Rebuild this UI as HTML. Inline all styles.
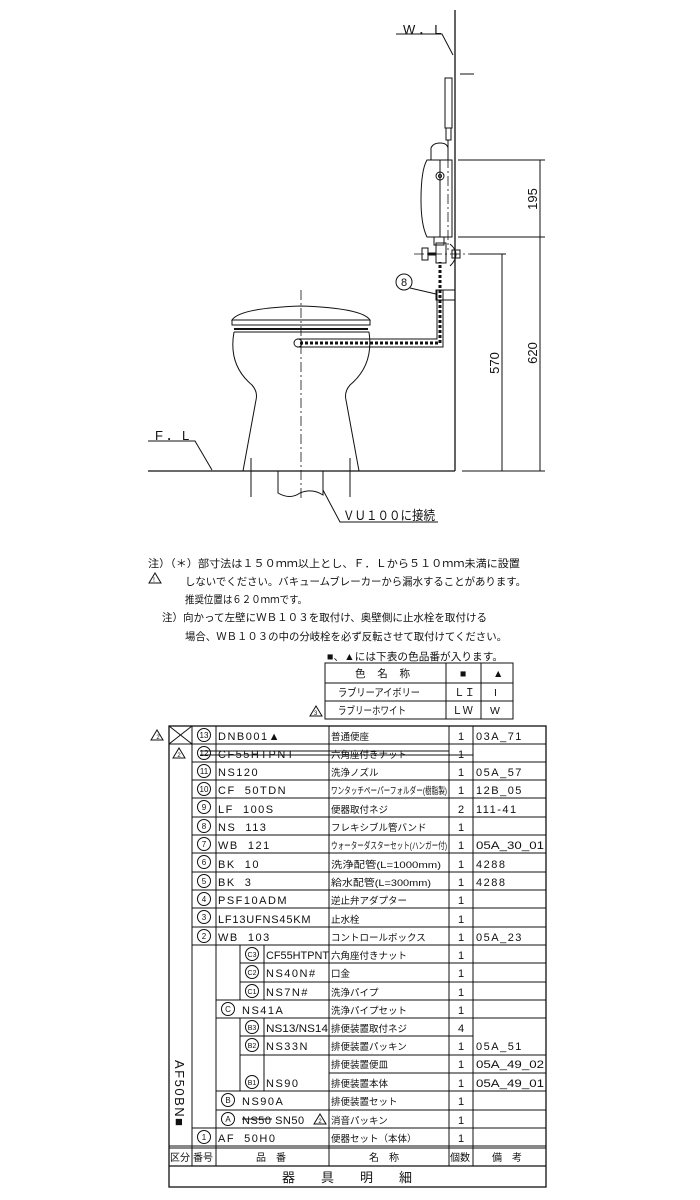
<!DOCTYPE html>
<html><head><meta charset="utf-8"><style>
html,body{margin:0;padding:0;background:#fff;}
svg{display:block;}
text{font-family:"Liberation Sans","Noto Sans CJK JP",sans-serif;fill:#111;}
</style></head><body>
<svg width="700" height="1200" viewBox="0 0 700 1200" xmlns="http://www.w3.org/2000/svg">
<g stroke="#111" fill="none" stroke-width="1">
<line x1="455" y1="10" x2="455" y2="471" stroke-width="1.3"/>
<line x1="148" y1="471" x2="455" y2="471" stroke-width="1.3"/>
<polyline points="396,34 442,34 453,55"/>
<polyline points="148,441 195,441 212,470"/>
<line x1="458" y1="160" x2="545" y2="160"/>
<line x1="458" y1="237" x2="545" y2="237"/>
<line x1="470" y1="254" x2="506" y2="254"/>
<line x1="462" y1="471" x2="545" y2="471"/>
<line x1="540" y1="160" x2="540" y2="471"/>
<line x1="502" y1="254" x2="502" y2="471"/>
<line x1="460" y1="74" x2="474" y2="74"/>
<line x1="301" y1="290" x2="301" y2="500" stroke-dasharray="10,3,2,3" stroke-width="0.8"/>
<line x1="448" y1="140" x2="448" y2="250" stroke-dasharray="10,3,2,3" stroke-width="0.8"/>
<line x1="414" y1="254" x2="470" y2="254" stroke-dasharray="10,3,2,3" stroke-width="0.8"/>
<path d="M232,320 Q240,308 301,306 Q362,308 370,320 Z"/>
<rect x="232" y="320" width="138" height="5"/>
<line x1="234" y1="329" x2="368" y2="329" stroke-width="2"/>
<path d="M234,332 Q228,365 252,385 Q258,392 256,400 L243,471"/>
<path d="M369,332 Q374,365 350,385 Q344,392 346,400 L359,471"/>
<line x1="234" y1="332" x2="369" y2="332"/>
<path d="M278,471 L278,493 Q290,500 300,493 Q312,488 323,495 L323,471"/>
<line x1="251" y1="458" x2="251" y2="497"/>
<line x1="350" y1="458" x2="350" y2="497"/>
<polyline points="323,490 340,522 438,522"/>
<path d="M297,339 L437,339 L437,290 M297,347 L443,347 L443,290" />
<path d="M300,343 L440,343" stroke-dasharray="3,2" stroke-width="3"/>
<path d="M440,343 L440,262" stroke-dasharray="3,2" stroke-width="3"/>
<ellipse cx="298" cy="343" rx="4" ry="4"/>
<rect x="436" y="290" width="19" height="10"/>
<circle cx="404" cy="282" r="8"/>
<line x1="410" y1="288" x2="436" y2="294"/>
<rect x="422" y="248" width="6" height="12"/>
<line x1="428" y1="254" x2="436" y2="254" stroke-width="3"/>
<rect x="436" y="243" width="10" height="20"/>
<path d="M450,244 Q462,254 450,266"/>
<rect x="452" y="250" width="8" height="8"/>
<path d="M427,160 L452,160 L452,237 L427,237 Q421,225 421,200 Q421,170 427,160 Z"/>
<line x1="440" y1="160" x2="440" y2="237"/>
<circle cx="440" cy="176" r="4"/><circle cx="440" cy="176" r="1.5"/>
<path d="M431,160 L431,148 Q433,143 440,143 Q447,143 448,148 L448,160"/>
<rect x="434" y="237" width="10" height="8"/>
<rect x="445" y="78" width="7" height="50"/>
<rect x="446" y="128" width="5" height="12"/>
<line x1="448" y1="140" x2="448" y2="150"/>
</g>
<g font-size="13">
<text x="403" y="34" letter-spacing="3">W．L</text>
<text x="155" y="440" letter-spacing="3">F．L</text>
<text x="343" y="520" textLength="92" lengthAdjust="spacingAndGlyphs">ＶＵ１００に接続</text>
<text x="404" y="286" font-size="11" text-anchor="middle">8</text>
<text transform="translate(537,199) rotate(-90)" text-anchor="middle">195</text>
<text transform="translate(537,353) rotate(-90)" text-anchor="middle">620</text>
<text transform="translate(499,363) rotate(-90)" text-anchor="middle">570</text>
</g>
<path d="M149,583 L155,573 L161,583 Z" stroke="#111" fill="none"/>
<text x="153" y="582" font-size="7">!</text>
<g font-size="10.5">
<text x="148" y="567" textLength="372" lengthAdjust="spacingAndGlyphs">注）（＊）部寸法は１５０ｍｍ以上とし、Ｆ．Ｌから５１０ｍｍ未満に設置</text>
<text x="185" y="585" textLength="341" lengthAdjust="spacingAndGlyphs">しないでください。バキュームブレーカーから漏水することがあります。</text>
<text x="185" y="603" textLength="122" lengthAdjust="spacingAndGlyphs">推奨位置は６２０ｍｍです。</text>
<text x="162" y="621" textLength="325" lengthAdjust="spacingAndGlyphs">注）向かって左壁にＷＢ１０３を取付け、奥壁側に止水栓を取付ける</text>
<text x="185" y="640" textLength="322" lengthAdjust="spacingAndGlyphs">場合、ＷＢ１０３の中の分岐栓を必ず反転させて取付けてください。</text>
<text x="327" y="660" textLength="176" lengthAdjust="spacingAndGlyphs">■、▲には下表の色品番が入ります。</text>
</g>
<g stroke="#111" fill="none">
<rect x="325" y="663" width="188" height="56"/>
<line x1="325" y1="683" x2="513" y2="683"/>
<line x1="325" y1="701" x2="513" y2="701"/>
<line x1="446" y1="663" x2="446" y2="719"/>
<line x1="481" y1="663" x2="481" y2="719"/>
<path d="M310,716 L316,706 L322,716 Z"/>
</g>
<g font-size="10.5">
<text x="355" y="677" textLength="55">色　名　称</text>
<text x="460" y="677">■</text><text x="493" y="677">▲</text>
<text x="338" y="696" textLength="82" lengthAdjust="spacingAndGlyphs">ラブリーアイボリー</text>
<text x="454" y="696">ＬＩ</text><text x="494" y="696">I</text>
<text x="338" y="714" textLength="68" lengthAdjust="spacingAndGlyphs">ラブリーホワイト</text>
<text x="452" y="714">ＬＷ</text><text x="490" y="714">W</text>
<text x="314" y="715" font-size="6">3</text>
</g>
<g stroke="#111" fill="none" stroke-width="1">
<rect x="169" y="726" width="377" height="461" stroke-width="1.3"/>
<line x1="169" y1="744" x2="192" y2="744"/>
<line x1="169" y1="726" x2="192" y2="744"/><line x1="192" y1="726" x2="169" y2="744"/>
<line x1="192" y1="726" x2="192" y2="1166"/>
<line x1="216" y1="726" x2="216" y2="1166"/>
<line x1="329" y1="726" x2="329" y2="1166"/>
<line x1="449" y1="726" x2="449" y2="1166"/>
<line x1="473" y1="726" x2="473" y2="1166"/>
<line x1="240" y1="945" x2="240" y2="1000"/>
<line x1="264" y1="945" x2="264" y2="1000"/>
<line x1="240" y1="1018" x2="240" y2="1091"/>
<line x1="264" y1="1018" x2="264" y2="1091"/>
<path d="M192,744H546M192,762H546M192,780H546M192,798H546M192,817H546M192,835H546M192,853H546M192,872H546M192,890H546M192,908H546M192,927H546M192,945H546"/>
<path d="M240,963H546M240,982H546M216,1000H546M216,1018H546M240,1036H473M240,1055H546M329,1073H546M216,1091H546M216,1110H546M192,1128H546"/>
<line x1="169" y1="1146" x2="546" y2="1146"/>
<line x1="169" y1="1148" x2="546" y2="1148"/>
<line x1="169" y1="1166" x2="546" y2="1166" stroke-width="1.3"/>
<line x1="200" y1="751" x2="449" y2="751"/><line x1="200" y1="755" x2="473" y2="755"/>
<line x1="242" y1="1119" x2="272" y2="1119"/>
<path d="M151,740 L157,730 L163,740 Z"/>
<path d="M173,758 L179,748 L185,758 Z"/>
<path d="M314,1124 L320,1114 L326,1124 Z"/>
<g>
<circle cx="204" cy="735" r="6.5"/><circle cx="204" cy="753" r="6.5"/><circle cx="204" cy="771" r="6.5"/>
<circle cx="204" cy="789" r="6.5"/><circle cx="204" cy="807" r="6.5"/><circle cx="204" cy="826" r="6.5"/>
<circle cx="204" cy="844" r="6.5"/><circle cx="204" cy="862" r="6.5"/><circle cx="204" cy="881" r="6.5"/>
<circle cx="204" cy="899" r="6.5"/><circle cx="204" cy="917" r="6.5"/><circle cx="204" cy="936" r="6.5"/>
<circle cx="204" cy="1137" r="6.5"/>
<circle cx="228" cy="1009" r="6.5"/><circle cx="228" cy="1100" r="6.5"/><circle cx="228" cy="1119" r="6.5"/>
<circle cx="252" cy="954" r="6.5"/><circle cx="252" cy="972" r="6.5"/><circle cx="252" cy="991" r="6.5"/>
<circle cx="252" cy="1027" r="6.5"/><circle cx="252" cy="1045" r="6.5"/><circle cx="252" cy="1082" r="6.5"/>
</g>
</g>
<g font-size="6" text-anchor="middle">
<text x="158" y="739">2</text><text x="179" y="757">2</text><text x="320" y="1123">2</text>
</g>
<g font-size="8" text-anchor="middle">
<text x="204" y="738">13</text><text x="204" y="756">12</text><text x="204" y="774">11</text>
<text x="204" y="792">10</text><text x="204" y="810">9</text><text x="204" y="829">8</text>
<text x="204" y="847">7</text><text x="204" y="865">6</text><text x="204" y="884">5</text>
<text x="204" y="902">4</text><text x="204" y="920">3</text><text x="204" y="939">2</text>
<text x="204" y="1140">1</text>
<text x="228" y="1012">C</text><text x="228" y="1103">B</text><text x="228" y="1122">A</text>
<text x="252" y="957" font-size="7">C3</text><text x="252" y="975" font-size="7">C2</text><text x="252" y="994" font-size="7">C1</text>
<text x="252" y="1030" font-size="7">B3</text><text x="252" y="1048" font-size="7">B2</text><text x="252" y="1085" font-size="7">B1</text>
</g>
<g font-size="11" letter-spacing="1.5">
<text x="218" y="740">DNB001▲</text>
<text x="218" y="758">CF55HTPNT</text>
<text x="218" y="776">NS120</text>
<text x="218" y="794" xml:space="preserve">CF  50TDN</text>
<text x="218" y="813" xml:space="preserve">LF  100S</text>
<text x="218" y="831" xml:space="preserve">NS  113</text>
<text x="218" y="849" xml:space="preserve">WB  121</text>
<text x="218" y="868" xml:space="preserve">BK  10</text>
<text x="218" y="886" xml:space="preserve">BK  3</text>
<text x="218" y="904">PSF10ADM</text>
<text x="218" y="923" letter-spacing="0.8">LF13UFNS45KM</text>
<text x="218" y="941" xml:space="preserve">WB  103</text>
<text x="266" y="959" letter-spacing="0" textLength="63" lengthAdjust="spacingAndGlyphs">CF55HTPNT</text>
<text x="266" y="977">NS40N#</text>
<text x="266" y="996">NS7N#</text>
<text x="242" y="1014">NS41A</text>
<text x="266" y="1032" letter-spacing="0" textLength="62" lengthAdjust="spacingAndGlyphs">NS13/NS14</text>
<text x="266" y="1050">NS33N</text>
<text x="266" y="1087">NS90</text>
<text x="242" y="1105">NS90A</text>
<text x="242" y="1124" letter-spacing="0.5">NS50 SN50</text>
<text x="218" y="1142" xml:space="preserve">AF  50H0</text>
</g>
<g font-size="9.5">
<text x="331" y="740">普通便座</text>
<text x="331" y="758">六角座付きナット</text>
<text x="331" y="776">洗浄ノズル</text>
<text x="331" y="794" textLength="116" lengthAdjust="spacingAndGlyphs">ワンタッチペーパーフォルダー(樹脂製)</text>
<text x="331" y="813">便器取付ネジ</text>
<text x="331" y="831">フレキシブル管バンド</text>
<text x="331" y="849" textLength="116" lengthAdjust="spacingAndGlyphs">ウォーターダスターセット(ハンガー付)</text>
<text x="331" y="868" textLength="110" lengthAdjust="spacingAndGlyphs">洗浄配管(L=1000mm)</text>
<text x="331" y="886" textLength="100" lengthAdjust="spacingAndGlyphs">給水配管(L=300mm)</text>
<text x="331" y="904">逆止弁アダプター</text>
<text x="331" y="923">止水栓</text>
<text x="331" y="941">コントロールボックス</text>
<text x="331" y="959">六角座付きナット</text>
<text x="331" y="977">口金</text>
<text x="331" y="996">洗浄パイプ</text>
<text x="331" y="1014">洗浄パイプセット</text>
<text x="331" y="1032">排便装置取付ネジ</text>
<text x="331" y="1050">排便装置パッキン</text>
<text x="331" y="1068">排便装置便皿</text>
<text x="331" y="1087">排便装置本体</text>
<text x="331" y="1105">排便装置セット</text>
<text x="331" y="1124">消音パッキン</text>
<text x="331" y="1142">便器セット（本体）</text>
</g>
<g font-size="11" text-anchor="middle">
<text x="461" y="740">1</text><text x="461" y="758">1</text><text x="461" y="776">1</text><text x="461" y="794">1</text>
<text x="461" y="813">2</text><text x="461" y="831">1</text><text x="461" y="849">1</text><text x="461" y="868">1</text>
<text x="461" y="886">1</text><text x="461" y="904">1</text><text x="461" y="923">1</text><text x="461" y="941">1</text>
<text x="461" y="959">1</text><text x="461" y="977">1</text><text x="461" y="996">1</text><text x="461" y="1014">1</text>
<text x="461" y="1032">4</text><text x="461" y="1050">1</text><text x="461" y="1068">1</text><text x="461" y="1087">1</text>
<text x="461" y="1105">1</text><text x="461" y="1124">1</text><text x="461" y="1142">1</text>
</g>
<g font-size="11" letter-spacing="1.5">
<text x="476" y="740">03A_71</text>
<text x="476" y="776">05A_57</text>
<text x="476" y="794">12B_05</text>
<text x="476" y="813">111-41</text>
<text x="476" y="849" letter-spacing="0" textLength="68" lengthAdjust="spacingAndGlyphs">05A_30_01</text>
<text x="476" y="868">4288</text>
<text x="476" y="886">4288</text>
<text x="476" y="941">05A_23</text>
<text x="476" y="1050">05A_51</text>
<text x="476" y="1068" letter-spacing="0" textLength="68" lengthAdjust="spacingAndGlyphs">05A_49_02</text>
<text x="476" y="1087" letter-spacing="0" textLength="68" lengthAdjust="spacingAndGlyphs">05A_49_01</text>
</g>
<text transform="translate(175,1060) rotate(90)" font-size="13" letter-spacing="1.5">AF50BN■</text>
<g font-size="10">
<text x="170" y="1161">区分</text><text x="193" y="1161">番号</text>
<text x="256" y="1161">品　番</text>
<text x="369" y="1161">名　称</text>
<text x="450" y="1161">個数</text>
<text x="492" y="1161">備　考</text>
</g>
<text x="282" y="1182" font-size="13">器　　具　　明　　細</text>
</svg>
</body></html>
